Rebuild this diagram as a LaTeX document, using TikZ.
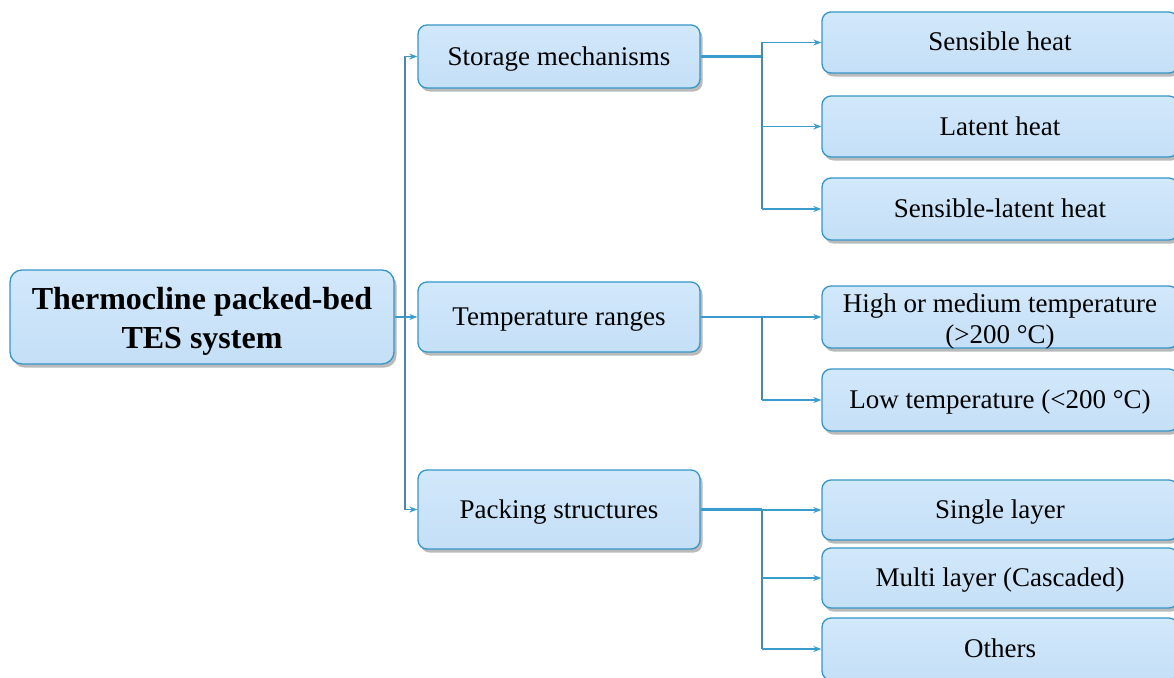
\documentclass[tikz,border=0pt]{standalone}
\usepackage{fontspec}
\setmainfont{Liberation Serif}
\usetikzlibrary{shadows,arrows.meta}
\definecolor{boxfill}{HTML}{C4DFF7}
\definecolor{boxtop}{HTML}{D2E8FB}
\definecolor{boxdraw}{HTML}{3696C8}
\definecolor{linec}{HTML}{3A9CCC}
\definecolor{trunkc}{HTML}{4E86A6}
\tikzset{
  box/.style={draw=boxdraw, line width=1.3pt, rounded corners=9pt,
    top color=boxtop, bottom color=boxfill, text=black, inner sep=0pt,
    drop shadow={shadow xshift=2.5pt, shadow yshift=-3.5pt, fill=black!60, opacity=0.45},
    font=\fontsize{27}{31}\selectfont, align=center,
    text height=19pt, text depth=2pt},
  midbox/.style={box, minimum width=282pt},
  leafbox/.style={box, minimum width=356pt},
  feed/.style={draw=linec, line width=2.6pt},
  trunk/.style={draw=trunkc, line width=1.4pt},
  arr/.style={draw=linec, line width=1.4pt, -{Stealth[length=8pt,width=6pt]}},
}
\begin{document}
\begin{tikzpicture}[x=1pt,y=-1pt]
\useasboundingbox (0,0) rectangle (1174,677);
\clip (0,0) rectangle (1174,677);
\fill[white] (0,0) rectangle (1174,677);
% root
\node[box, minimum width=384pt, minimum height=94pt, rounded corners=12pt,
  font=\fontsize{32}{39}\selectfont\bfseries, text height=65pt, text depth=3pt] (root) at (202,317)
  {\begin{tabular}[b]{@{}c@{}}Thermocline packed-bed\\TES system\end{tabular}};
% middle level
\node[midbox, minimum height=63pt] (sm) at (559,56.5) {Storage mechanisms};
\node[midbox, minimum height=70pt] (tr) at (559,317) {Temperature ranges};
\node[midbox, minimum height=79pt] (ps) at (559,509.5) {Packing structures};
% leaves
\node[leafbox, minimum height=61pt] (l1) at (1000,42.5) {Sensible heat};
\node[leafbox, minimum height=61pt] (l2) at (1000,126.5) {Latent heat};
\node[leafbox, minimum height=62pt] (l3) at (1000,209) {Sensible-latent heat};
\node[leafbox, minimum height=62pt, text height=54pt, text depth=2pt] (l4) at (1000,317)
  {\begin{tabular}[b]{@{}c@{}}High or medium temperature\\(>200 °C)\end{tabular}};
\node[leafbox, minimum height=62pt] (l5) at (1000,400) {Low temperature (<200 °C)};
\node[leafbox, minimum height=60pt] (l6) at (1000,510) {Single layer};
\node[leafbox, minimum height=60pt] (l7) at (1000,578) {Multi layer (Cascaded)};
\node[leafbox, minimum height=62pt] (l8) at (1000,649) {Others};
% connectors root
\coordinate (j0) at (405,317);
\draw[feed] (root.east) -- (j0);
\draw[trunk] (j0 |- sm.west) -- (j0 |- ps.west);
\draw[arr] (j0 |- sm.west) -- (sm.west);
\draw[arr] (j0) -- (tr.west);
\draw[arr] (j0 |- ps.west) -- (ps.west);
% storage
\coordinate (j1) at (762,56.5);
\draw[feed] (sm.east) -- (j1);
\draw[trunk] (j1 |- l1.west) -- (j1 |- l3.west);
\draw[arr] (j1 |- l1.west) -- (l1.west);
\draw[arr] (j1 |- l2.west) -- (l2.west);
\draw[arr] (j1 |- l3.west) -- (l3.west);
% temperature
\coordinate (j2) at (762,317);
\draw[feed] (tr.east) -- (j2);
\draw[trunk] (j2) -- (j2 |- l5.west);
\draw[arr] (j2) -- (l4.west);
\draw[arr] (j2 |- l5.west) -- (l5.west);
% packing
\coordinate (j3) at (762,509.5);
\draw[feed] (ps.east) -- (j3);
\draw[trunk] (j3) -- (j3 |- l8.west);
\draw[arr] (j3 |- l6.west) -- (l6.west);
\draw[arr] (j3 |- l7.west) -- (l7.west);
\draw[arr] (j3 |- l8.west) -- (l8.west);
\end{tikzpicture}
\end{document}
